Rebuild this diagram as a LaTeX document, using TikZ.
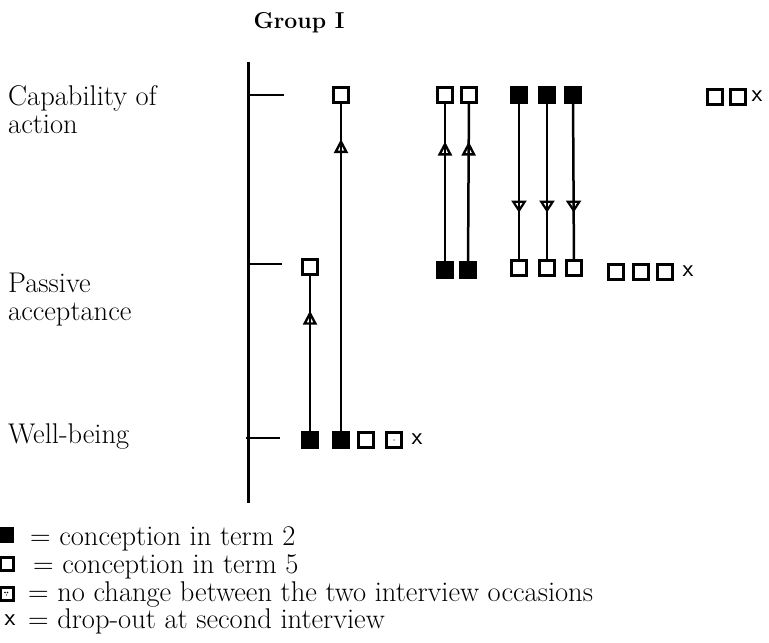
\documentclass[tikz,border=0pt]{standalone}
\usetikzlibrary{arrows.meta,decorations.markings}
\begin{document}
\begin{tikzpicture}[x=1pt,y=-1pt,
  openbox/.style={draw,line width=2.5pt,minimum size=15pt,inner sep=0pt,fill=white},
  fullbox/.style={draw,line width=2.5pt,minimum size=15pt,inner sep=0pt,fill=black},
  dropout/.style={inner sep=0pt,font=\sffamily\fontsize{25}{25}\selectfont},
  axisline/.style={line width=3pt},
  tick/.style={line width=2.6pt},
  link/.style={line width=2.5pt},
  label/.style={anchor=base west,inner sep=0pt,font=\fontsize{28.5}{32}\selectfont},
  uparrow/.style={postaction={decorate},decoration={markings,
    mark=at position #1 with {\arrow{Triangle[open,length=14pt,width=14pt,line width=2.4pt]}}}},
  downarrow/.style={postaction={decorate},decoration={markings,
    mark=at position #1 with {\arrow{Triangle[open,length=12pt,width=15pt,line width=2.2pt]}}}},
]
\useasboundingbox (0,0) rectangle (769,643);

% title
\node[anchor=base,inner sep=0pt,font=\bfseries\fontsize{23}{27}\selectfont] (title) at (299,28) {Group I};

% vertical scale with its three levels
\coordinate (axtop) at (248,62);
\coordinate (axbot) at (248,503);
\draw[axisline] (axtop) -- (axbot);
\coordinate (t1a) at (247,95);  \coordinate (t1b) at (284,95);
\coordinate (t2a) at (247,264); \coordinate (t2b) at (282,264);
\coordinate (t3a) at (246,438); \coordinate (t3b) at (280,438);
\draw[tick] (t1a) -- (t1b);
\draw[tick] (t2a) -- (t2b);
\draw[tick] (t3a) -- (t3b);

% level names
\node[label] (cap1) at (8,105) {Capability of};
\node[label] (cap2) at (8,133) {action};
\node[label] (pas1) at (8,292) {Passive};
\node[label] (pas2) at (8,320) {acceptance};
\node[label] (wel)  at (8,443) {Well-being};

% well-being row
\node[fullbox] (w1) at (310,440) {};
\node[fullbox] (w2) at (341,440) {};
\node[openbox] (w3) at (366,440) {};
\node[openbox] (w4) at (394,440) {};
\fill (w4.center) circle (0.7pt);
\node[dropout] (wx) at (417,439) {x};

% passive acceptance row
\node[openbox] (p1) at (310,267) {};
\node[fullbox] (p2) at (445,270) {};
\node[fullbox] (p3) at (468,270) {};
\node[openbox] (p4) at (519,268) {};
\node[openbox] (p5) at (547,268) {};
\node[openbox] (p6) at (574,268) {};
\node[openbox] (p7) at (616,272) {};
\node[openbox] (p8) at (641,272) {};
\node[openbox] (p9) at (665,272) {};
\node[dropout] (px) at (688,271) {x};

% capability of action row
\node[openbox] (c1) at (341,95) {};
\node[openbox] (c2) at (445,95) {};
\node[openbox] (c3) at (469,95) {};
\node[fullbox] (c4) at (519,95) {};
\node[fullbox] (c5) at (547,95) {};
\node[fullbox] (c6) at (573,95) {};
\node[openbox] (c7) at (715,97) {};
\node[openbox] (c8) at (738,97) {};
\node[dropout] (cx) at (757,96) {x};

% changes between the two interviews
\draw[link,uparrow=0.775] (w1) -- (p1);
\draw[link,uparrow=0.892] (w2) -- (c1);
\draw[link,uparrow=0.76] (p2) -- (c2);
\draw[link,uparrow=0.76] (p3) -- (c3);
\draw[link,downarrow=0.70] (c4) -- (p4);
\draw[link,downarrow=0.70] (c5) -- (p5);
\draw[link,downarrow=0.70] (c6) -- (p6);

% legend
\node[fullbox,minimum size=13pt] (k1) at (6,535) {};
\node[openbox,minimum size=13pt] (k2) at (7,564) {};
\node[openbox,minimum size=13pt] (k3) at (7,594) {};
\fill (k3.center) ++(-2,-1.5) circle (0.8pt) ++(2.5,0) circle (0.8pt) ++(-1,2.5) circle (0.6pt);
\node[dropout] (k4) at (10,620) {x};
\node[label] (l1) at (30,545) {= conception in term 2};
\node[label] (l2) at (33,573) {= conception in term 5};
\node[label] (l3) at (28,601) {= no change between the two interview occasions};
\node[label] (l4) at (28,628) {= drop-out at second interview};
\end{tikzpicture}
\end{document}
